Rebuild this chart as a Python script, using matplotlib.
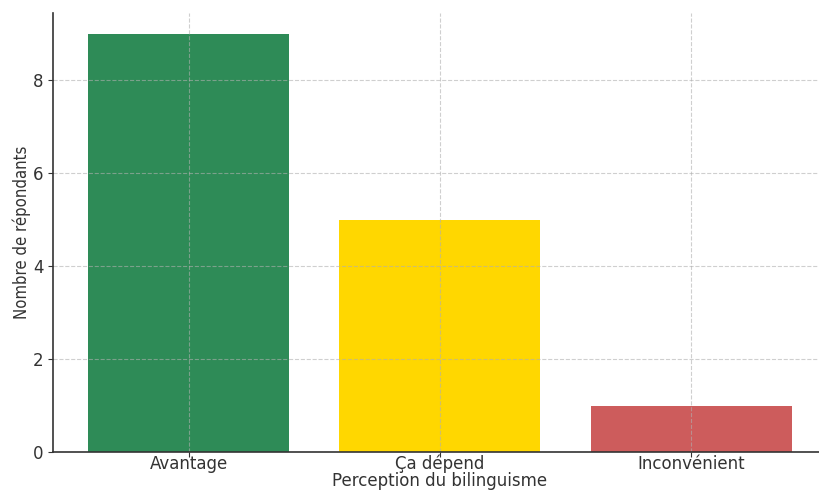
import matplotlib
matplotlib.use('Agg')
import matplotlib.pyplot as plt

plt.rcParams['font.family'] = ['DejaVu Sans']

categories = ['Avantage', 'Ça dépend', 'Inconvénient']
counts = [9, 5, 1]
colors = ['#2e8b57', '#ffd700', '#cd5c5c']

fig = plt.figure(figsize=(8.19, 4.92), dpi=100)
ax = fig.add_axes([0.0647, 0.0813, 0.9448, 0.893])

ax.bar(categories, counts, color=colors, width=0.8)

ax.grid(True, linestyle='--', color='#b0b0b0', alpha=0.6, linewidth=0.8)
ax.spines['top'].set_visible(False)
ax.spines['right'].set_visible(False)
for s in ['left', 'bottom']:
    ax.spines[s].set_color('#333333')
    ax.spines[s].set_linewidth(1.2)

ax.tick_params(colors='#333333', labelsize=12, length=3.5)
ax.tick_params(axis='x', pad=-1.5)
ax.set_yticks([0, 2, 4, 6, 8])
ax.set_xlabel('Perception du bilinguisme', fontsize=12, color='#333333', labelpad=-1)
ax.set_ylabel('Nombre de répondants', fontsize=12, color='#333333',
              fontstretch='condensed', labelpad=1)

fig.savefig('out.png', dpi=100)
